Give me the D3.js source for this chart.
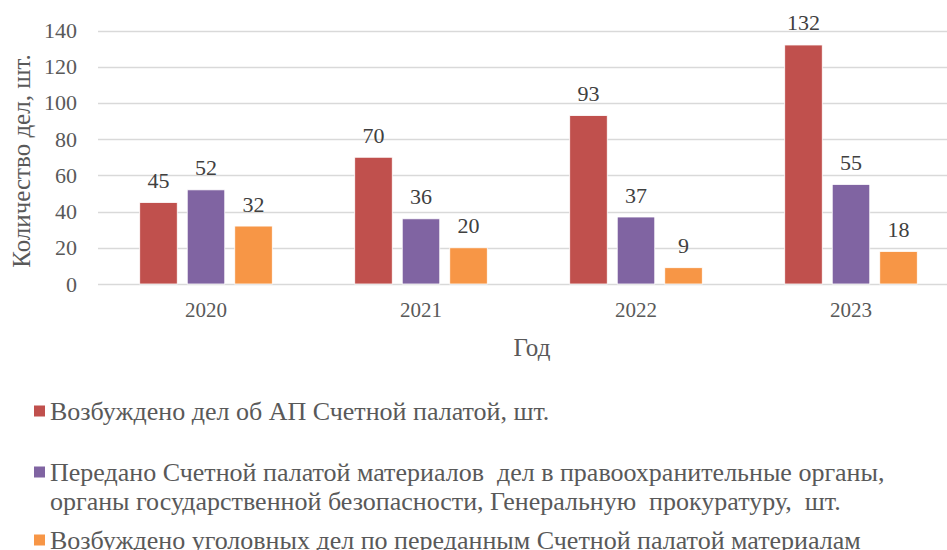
<!DOCTYPE html>
<html>
<head>
<meta charset="utf-8">
<script src="https://cdn.jsdelivr.net/npm/d3@7"></script>
</head>
<body style="margin:0">
<script>
const years = ["2020", "2021", "2022", "2023"];
const seriesNames = [
  ["Возбуждено дел об АП Счетной палатой, шт."],
  ["Передано Счетной палатой материалов  дел в правоохранительные органы,",
   "органы государственной безопасности, Генеральную  прокуратуру,  шт."],
  ["Возбуждено уголовных дел по переданным Счетной палатой материалам"]
];
const initiated = [45, 70, 93, 132];
const transferred = [52, 36, 37, 55];
const criminal = [32, 20, 9, 18];
const colors = ["#C0504D", "#8064A2", "#F79646"];
const yTicks = [0, 20, 40, 60, 80, 100, 120, 140];

const series = [initiated, transferred, criminal];
const W = 947, H = 550;
const FONT = "'Liberation Serif', 'Times New Roman', Tinos, FreeSerif";
const textColor = "#595959";

const svg = d3.select("body").append("svg")
  .attr("width", W)
  .attr("height", H)
  .style("font-family", FONT);

// every label goes through this so the serif face sticks
const label = sel => sel.style("font-family", FONT).attr("font-family", FONT);

const x0 = d3.scaleBand()
  .domain(years)
  .range([98.5, 958.5])
  .paddingInner(0.337)
  .paddingOuter(0.337 / 2);

const x1 = d3.scaleBand()
  .domain([0, 1, 2])
  .range([0, x0.bandwidth()])
  .paddingInner(0.21)
  .paddingOuter(0.105);

const y = d3.scaleLinear()
  .domain([0, 140])
  .range([284, 30.5]);

// gridlines
svg.append("g")
  .selectAll("line")
  .data(yTicks)
  .join("line")
    .attr("x1", 98)
    .attr("x2", W)
    .attr("y1", d => Math.round(y(d)) + 0.5)
    .attr("y2", d => Math.round(y(d)) + 0.5)
    .attr("stroke", "#d9d9d9")
    .attr("stroke-width", 1.5);

// y tick labels
svg.append("g")
  .selectAll("text")
  .data(yTicks)
  .join("text")
    .call(label)
    .attr("fill", textColor)
    .attr("x", 77)
    .attr("y", d => y(d) + 7.5)
    .attr("text-anchor", "end")
    .attr("font-size", 22)
    .text(d => d);

// bars
const groups = svg.append("g")
  .selectAll("g")
  .data(years)
  .join("g")
    .attr("transform", d => `translate(${x0(d)},0)`);

groups.selectAll("rect")
  .data((d, i) => series.map((s, k) => ({k, v: s[i]})))
  .join("rect")
    .attr("x", d => x1(d.k))
    .attr("y", d => y(d.v))
    .attr("width", x1.bandwidth())
    .attr("height", d => y(0) - y(d.v))
    .attr("fill", d => colors[d.k])
    .attr("stroke", "#fff")
    .attr("stroke-width", 0.8);

groups.selectAll("text")
  .data((d, i) => series.map((s, k) => ({k, v: s[i]})))
  .join("text")
    .call(label)
    .attr("x", d => x1(d.k) + x1.bandwidth() / 2)
    .attr("y", d => y(d.v) - 14.5)
    .attr("text-anchor", "middle")
    .attr("font-size", 22)
    .attr("fill", "#404040")
    .text(d => d.v);

// x labels
svg.append("g")
  .selectAll("text")
  .data(years)
  .join("text")
    .call(label)
    .attr("fill", textColor)
    .attr("x", d => x0(d) + x0.bandwidth() / 2)
    .attr("y", 317)
    .attr("text-anchor", "middle")
    .attr("font-size", 21)
    .text(d => d);

// axis titles
svg.append("text")
  .call(label)
  .attr("fill", textColor)
  .attr("x", 532)
  .attr("y", 356)
  .attr("text-anchor", "middle")
  .attr("font-size", 25)
  .text("Год");

svg.append("text")
  .call(label)
  .attr("fill", textColor)
  .attr("transform", "translate(30,161) rotate(-90)")
  .attr("text-anchor", "middle")
  .attr("font-size", 25)
  .text("Количество дел, шт.");

// legend
const legendY = [411, 472, 540];
const legend = svg.append("g")
  .selectAll("g")
  .data(seriesNames)
  .join("g")
    .attr("transform", (d, i) => `translate(0,${legendY[i]})`);

legend.append("rect")
  .attr("x", 34)
  .attr("y", -5.5)
  .attr("width", 11)
  .attr("height", 11)
  .attr("fill", (d, i) => colors[i]);

legend.append("text")
  .call(label)
  .attr("fill", textColor)
  .attr("font-size", 26)
  .style("white-space", "pre")
  .selectAll("tspan")
  .data(d => d)
  .join("tspan")
    .attr("x", 50)
    .attr("y", (d, j) => 8.5 + j * 29)
    .text(d => d);
</script>
</body>
</html>
